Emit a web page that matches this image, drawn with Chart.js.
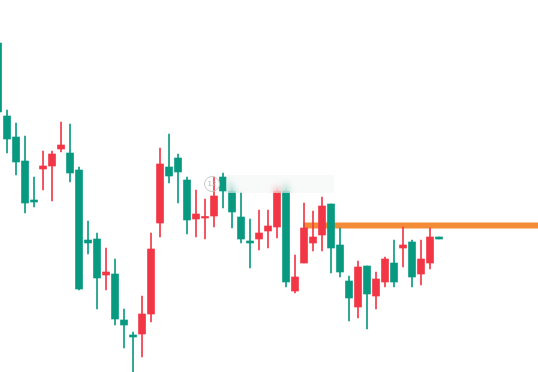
<!DOCTYPE html>
<html lang="en">
<head>
  <meta charset="UTF-8">
  <title>Candles</title>
  <script src="https://cdn.jsdelivr.net/npm/chart.js"></script>
  <style>
    * { box-sizing: border-box; }
    body { margin: 0; padding: 0; background: #ffffff; }
    #wrap { position: relative; width: 538px; height: 372px; overflow: hidden; }
    #frost {
      position: absolute; left: 226px; top: 175px; width: 108px; height: 18px;
      backdrop-filter: blur(3px); -webkit-backdrop-filter: blur(3px);
      background: rgba(240,243,242,0.45);
    }
    #logo {
      position: absolute; left: 204px; top: 176px; width: 16px; height: 16px;
      border: 1px solid #c9c9c9; border-radius: 50%;
      font: 7px 'DejaVu Sans', sans-serif; color: #b5b5b5;
      text-align: center; line-height: 14px; filter: blur(0.4px);
    }
  </style>
</head>
<body>
  <div id="wrap">
    <canvas id="chart"></canvas>
    <div id="frost"></div>
    <div id="logo">12</div>
  </div>
  <script>
    // price values (no axis shown, arbitrary linear units)
    const opens  = [329,256,235,211,172,203,206,223,219,202,132,133,97,98,52,37,38,58,149,205,214,192,153,154,156,195,181,155,131,133,141,145,181,81,109,129,137,168,127,91,65,106,76,90,109,124,130,98,109,135];
    const highs  = [332,262,249,236,195,221,221,250,248,205,151,139,124,113,63,40,76,139,224,238,218,195,182,173,195,199,189,180,153,162,162,186,189,117,169,161,175,168,144,96,111,106,100,115,132,145,132,132,144,135];
    const lows   = [260,219,197,159,165,182,171,220,190,82,118,63,82,47,24,0,15,50,135,189,169,138,135,133,145,164,144,129,104,122,124,134,85,79,109,121,121,99,95,51,54,43,63,85,85,105,85,87,103,133];
    const closes = [260,233,210,169,170,206,218,227,199,83,129,94,100,53,47,35,58,123,208,196,200,152,158,155,176,181,160,133,129,139,146,181,90,95,144,135,166,124,100,74,105,78,93,113,90,127,95,113,135,133];

    // horizontal level (price, starting candle position)
    const levelValue = 146.5;
    const levelFrom = 33.9;

    const upColor = '#f23645';
    const downColor = '#089981';
    const levelColor = '#f38b37';

    const idx = opens.map((_, i) => i);
    const colors = idx.map(i => closes[i] > opens[i] ? upColor : downColor);

    // level line drawn under the candles, placed with the chart's scales
    const levelLine = {
      id: 'levelLine',
      beforeDatasetsDraw(chart) {
        const { ctx, chartArea, scales } = chart;
        const x0 = scales.x.getPixelForValue(levelFrom);
        const y = scales.y.getPixelForValue(levelValue);
        ctx.save();
        ctx.strokeStyle = levelColor;
        ctx.lineWidth = 6;
        ctx.beginPath();
        ctx.moveTo(x0, y);
        ctx.lineTo(chartArea.right, y);
        ctx.stroke();
        ctx.restore();
      }
    };

    new Chart(document.getElementById('chart'), {
      type: 'bar',
      data: {
        datasets: [
          {
            data: idx.map(i => ({ x: i, y: [opens[i], closes[i]] })),
            backgroundColor: colors,
            barThickness: 7,
            minBarLength: 1.5,
            grouped: false,
            order: 1
          },
          {
            data: idx.map(i => ({ x: i, y: [lows[i], highs[i]] })),
            backgroundColor: colors,
            barThickness: 1,
            grouped: false,
            order: 2
          }
        ]
      },
      options: {
        responsive: true,
        maintainAspectRatio: false,
        animation: false,
        layout: { padding: 0 },
        plugins: { legend: { display: false }, tooltip: { enabled: false } },
        scales: {
          x: { type: 'linear', min: 0.22, max: 60.0, offset: false, display: false },
          y: { min: 0, max: 372, display: false }
        }
      },
      plugins: [levelLine]
    });
  </script>
</body>
</html>
